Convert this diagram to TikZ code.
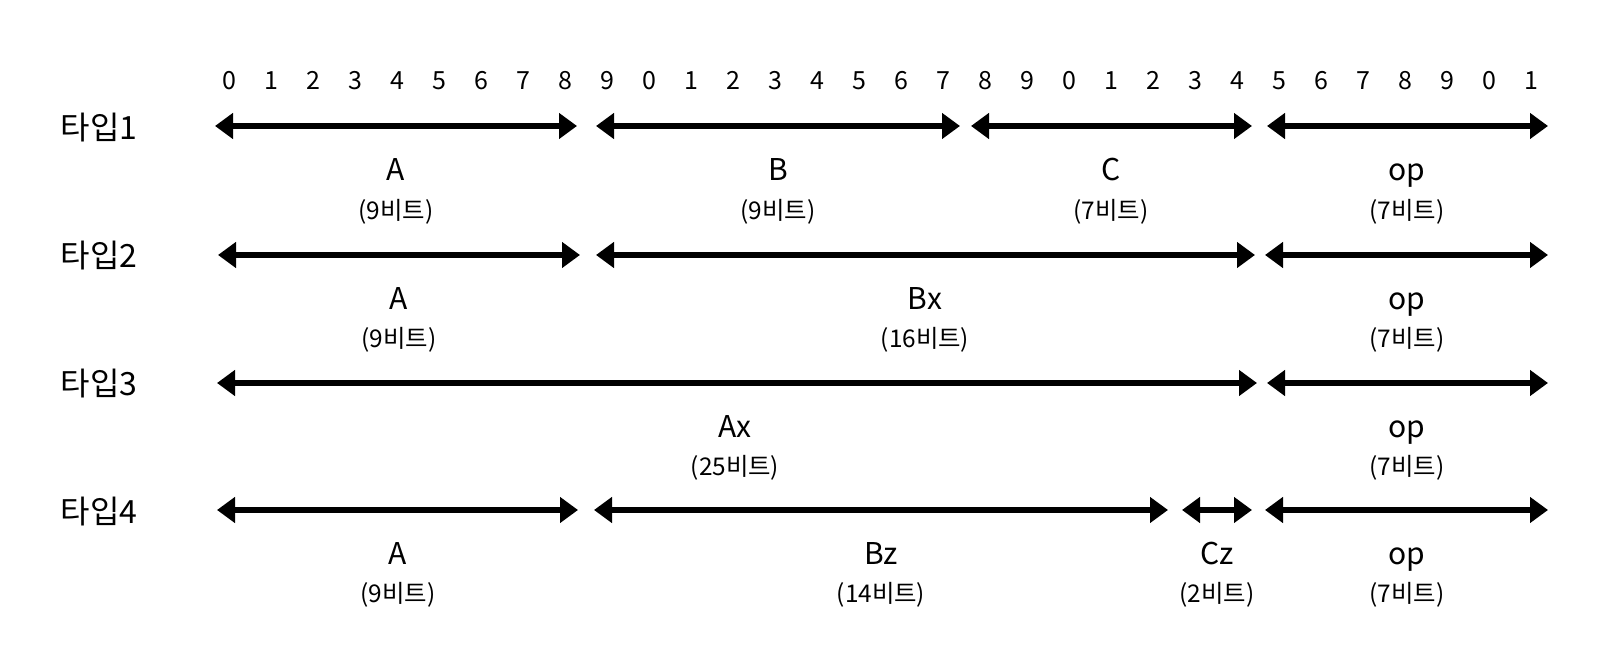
\documentclass[tikz,border=0pt]{standalone}
\usepackage{fontspec}
\setmainfont{Noto Sans CJK KR}
\usetikzlibrary{arrows.meta}
\begin{document}
\begin{tikzpicture}[x=0.5pt,y=-0.5pt,
  field/.style={line width=3pt,{Triangle[length=9pt,width=12.5pt]}-{Triangle[length=9pt,width=12.5pt]}},
  digit/.style={inner sep=0pt,text height=0.733em,text depth=0pt,font=\fontsize{12.5}{15}\selectfont},
  rowlab/.style={inner sep=0pt,font=\fontsize{16}{19}\selectfont},
  fname/.style={inner sep=0pt,text height=0.733em,text depth=0pt,font=\fontsize{15}{18}\selectfont},
  bits/.style={inner sep=0pt,text height=0.85em,text depth=0.22em,font=\fontsize{12.2}{14}\selectfont}]
\useasboundingbox (0,0) rectangle (1602,656);
% bit index row
\foreach \i in {0,...,31}{
  \pgfmathtruncatemacro{\d}{mod(\i,10)}
  \node[digit] (d\i) at ({229+42*\i},82) {\d};
}
% row labels
\node[rowlab] (t1) at (99,128) {타입1};
\node[rowlab] (t2) at (99,256) {타입2};
\node[rowlab] (t3) at (99,384) {타입3};
\node[rowlab] (t4) at (99,512) {타입4};
% row 1
\coordinate (r1a0) at (215,126); \coordinate (r1a1) at (577,126);
\coordinate (r1b0) at (596,126); \coordinate (r1b1) at (960,126);
\coordinate (r1c0) at (971,126); \coordinate (r1c1) at (1252,126);
\coordinate (r1o0) at (1267,126); \coordinate (r1o1) at (1548,126);
\draw[field] (r1a0) -- (r1a1);
\draw[field] (r1b0) -- (r1b1);
\draw[field] (r1c0) -- (r1c1);
\draw[field] (r1o0) -- (r1o1);
\node[fname] (n1a) at (396,173) {A};   \node[bits] (b1a) at (396,213) {(9비트)};
\node[fname] (n1b) at (778,173) {B};   \node[bits] (b1b) at (778,213) {(9비트)};
\node[fname] (n1c) at (1111,173) {C};  \node[bits] (b1c) at (1111,213) {(7비트)};
\node[fname] (n1o) at (1407,173) {op}; \node[bits] (b1o) at (1407,213) {(7비트)};
% row 2
\coordinate (r2a0) at (218,255); \coordinate (r2a1) at (580,255);
\coordinate (r2b0) at (596,255); \coordinate (r2b1) at (1255,255);
\coordinate (r2o0) at (1265,255); \coordinate (r2o1) at (1548,255);
\draw[field] (r2a0) -- (r2a1);
\draw[field] (r2b0) -- (r2b1);
\draw[field] (r2o0) -- (r2o1);
\node[fname] (n2a) at (399,302) {A};   \node[bits] (b2a) at (399,341) {(9비트)};
\node[fname] (n2b) at (925,302) {Bx};  \node[bits] (b2b) at (925,341) {(16비트)};
\node[fname] (n2o) at (1407,302) {op}; \node[bits] (b2o) at (1407,341) {(7비트)};
% row 3
\coordinate (r3a0) at (217,383); \coordinate (r3a1) at (1257,383);
\coordinate (r3o0) at (1267,383); \coordinate (r3o1) at (1548,383);
\draw[field] (r3a0) -- (r3a1);
\draw[field] (r3o0) -- (r3o1);
\node[fname] (n3a) at (735,430) {Ax};  \node[bits] (b3a) at (735,469) {(25비트)};
\node[fname] (n3o) at (1407,430) {op}; \node[bits] (b3o) at (1407,469) {(7비트)};
% row 4
\coordinate (r4a0) at (217,510); \coordinate (r4a1) at (578,510);
\coordinate (r4b0) at (594,510); \coordinate (r4b1) at (1168,510);
\coordinate (r4c0) at (1182,510); \coordinate (r4c1) at (1252,510);
\coordinate (r4o0) at (1265,510); \coordinate (r4o1) at (1548,510);
\draw[field] (r4a0) -- (r4a1);
\draw[field] (r4b0) -- (r4b1);
\draw[field] (r4c0) -- (r4c1);
\draw[field] (r4o0) -- (r4o1);
\node[fname] (n4a) at (398,557) {A};   \node[bits] (b4a) at (398,596) {(9비트)};
\node[fname] (n4b) at (881,557) {Bz};  \node[bits] (b4b) at (881,596) {(14비트)};
\node[fname] (n4c) at (1217,557) {Cz}; \node[bits] (b4c) at (1217,596) {(2비트)};
\node[fname] (n4o) at (1407,557) {op}; \node[bits] (b4o) at (1407,596) {(7비트)};
\end{tikzpicture}
\end{document}
